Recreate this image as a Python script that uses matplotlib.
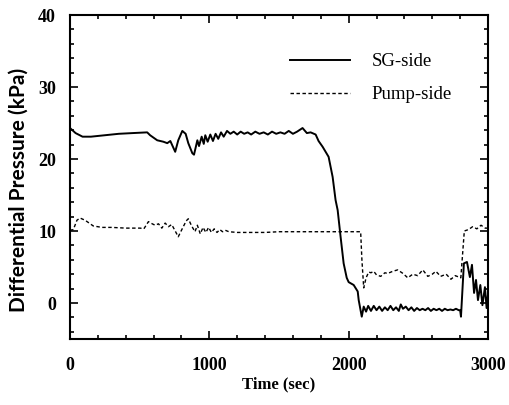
import matplotlib
matplotlib.use("Agg")
import matplotlib.pyplot as plt
from matplotlib.ticker import MultipleLocator

# SG-side (solid)
t_sg = [0, 40, 90, 150, 250, 350, 450, 554, 575, 626, 670, 698, 720, 755, 777, 806,
        830, 849, 878, 890, 914, 926, 945, 960, 971, 988, 1007, 1026, 1045, 1064, 1084,
        1103, 1127, 1151, 1175, 1200, 1225, 1250, 1275, 1300, 1330, 1360, 1390, 1420,
        1450, 1480, 1510, 1540, 1570, 1600, 1630, 1669, 1700, 1727, 1763, 1784, 1813,
        1856, 1885, 1906, 1921, 1942, 1964, 1986, 2000, 2036, 2065, 2072, 2094, 2108,
        2125, 2140, 2160, 2180, 2200, 2220, 2240, 2260, 2280, 2300, 2320, 2340, 2360,
        2374, 2390, 2410, 2430, 2450, 2470, 2490, 2510, 2530, 2550, 2570, 2590, 2610,
        2630, 2650, 2670, 2690, 2710, 2730, 2750, 2770, 2790, 2800, 2806, 2827, 2849,
        2870, 2885, 2900, 2914, 2928, 2945, 2960, 2978, 2990, 3000]
v_sg = [24.3, 23.6, 23.1, 23.1, 23.3, 23.5, 23.6, 23.7, 23.3, 22.6, 22.4, 22.2, 22.5,
        21.0, 22.6, 23.9, 23.5, 22.2, 20.8, 20.6, 22.6, 21.8, 23.1, 22.1, 23.3, 22.4,
        23.4, 22.5, 23.5, 22.8, 23.7, 23.1, 23.9, 23.5, 23.8, 23.4, 23.8, 23.5, 23.7,
        23.4, 23.8, 23.5, 23.7, 23.4, 23.8, 23.5, 23.7, 23.5, 23.9, 23.5, 23.8, 24.3,
        23.6, 23.7, 23.4, 22.5, 21.7, 20.3, 17.5, 14.3, 12.9, 9.2, 5.5, 3.5, 2.9, 2.5,
        1.6, 0.4, -1.9, -0.5, -1.2, -0.4, -1.1, -0.4, -1.0, -0.5, -1.1, -0.6, -1.0,
        -0.4, -1.0, -0.6, -1.1, -0.2, -0.8, -0.5, -1.0, -0.6, -1.1, -0.7, -1.0, -0.8,
        -1.0, -0.7, -1.1, -0.8, -1.0, -0.8, -1.1, -0.8, -1.0, -0.9, -1.0, -0.8, -1.0,
        -1.0, -1.9, 5.5, 5.7, 3.6, 5.3, 1.4, 3.2, 0.4, 2.5, -0.3, 2.2, -0.7, 1.2]

# Pump-side (dashed)
t_pu = [0, 24, 50, 72, 108, 167, 230, 300, 400, 504, 530, 563, 590, 611, 635, 659,
        683, 707, 730, 755, 777, 800, 834, 849, 873, 897, 914, 935, 955, 975, 995,
        1015, 1035, 1055, 1075, 1095, 1115, 1140, 1200, 1300, 1400, 1500, 1600, 1700,
        1800, 1900, 2000, 2086, 2095, 2108, 2125, 2144, 2160, 2180, 2200, 2230, 2260,
        2280, 2316, 2352, 2390, 2424, 2460, 2495, 2532, 2568, 2600, 2626, 2660, 2700,
        2734, 2765, 2791, 2805, 2820, 2830, 2860, 2890, 2920, 2950, 2980, 3000]
v_pu = [10.1, 10.2, 11.5, 11.8, 11.5, 10.7, 10.5, 10.5, 10.4, 10.4, 10.3, 11.3, 11.0,
        10.8, 11.0, 10.4, 11.1, 10.6, 10.9, 10.0, 9.2, 10.1, 11.4, 11.7, 10.7, 9.9,
        10.8, 9.6, 10.5, 9.8, 10.5, 9.8, 10.3, 9.8, 10.2, 9.9, 10.1, 9.9, 9.8, 9.8,
        9.8, 9.9, 9.9, 9.9, 9.9, 9.9, 9.9, 9.9, 6.0, 2.1, 3.5, 4.3, 4.2, 4.4, 3.9, 3.7,
        4.2, 4.1, 4.4, 4.6, 4.1, 3.5, 4.0, 3.8, 4.6, 3.7, 4.0, 4.4, 3.7, 4.0, 3.3, 3.8,
        3.6, 3.5, 7.4, 10.0, 10.2, 10.6, 10.3, 10.8, 10.4, 10.4]

x_ticks = [0, 1000, 2000, 3000]
y_ticks = [0, 10, 20, 30, 40]

plt.rcParams['font.family'] = ['Liberation Serif', 'DejaVu Serif']

fig = plt.figure(figsize=(5.09, 4.05), dpi=100)
ax = fig.add_axes([70/509, 1 - 339/405, (488-70)/509, (339-15)/405])

ax.plot(t_sg, v_sg, color='black', lw=1.4, solid_joinstyle='round', label='SG-side')
ln, = ax.plot(t_pu, v_pu, color='black', lw=1.0, label='Pump-side')
ln.set_dashes([2.5, 1.8])

ax.set_xlim(0, 3000)
ax.set_ylim(-5, 40)
ax.set_xticks(x_ticks)
ax.set_yticks(y_ticks)
ax.xaxis.set_minor_locator(MultipleLocator(200))
ax.yaxis.set_minor_locator(MultipleLocator(2))
ax.tick_params(which='both', direction='in', top=True, right=True, width=1.2,
               labelsize=13)
ax.tick_params(axis='y', which='both', pad=10)
ax.tick_params(axis='x', which='both', pad=13)
ax.tick_params(which='major', length=6)
ax.tick_params(which='minor', length=3)
for lab in ax.get_xticklabels() + ax.get_yticklabels():
    lab.set_fontweight('bold')
for s in ax.spines.values():
    s.set_linewidth(1.5)

ax.set_xlabel('Time (sec)', fontsize=12, fontweight='bold', labelpad=2)
ax.set_ylabel('Differential Pressure (kPa)', fontsize=15, fontweight='bold',
              family=['Lato', 'DejaVu Sans'])
ax.yaxis.set_label_coords(-0.098, (339 - 190) / 324)

leg = ax.legend(loc='upper left', bbox_to_anchor=((290-70)/418, (339-53)/324),
                frameon=False, borderpad=0, borderaxespad=0,
                fontsize=13.5, handlelength=3.2, handletextpad=1.15, labelspacing=0.85)

fig.savefig('out.png', dpi=100)
